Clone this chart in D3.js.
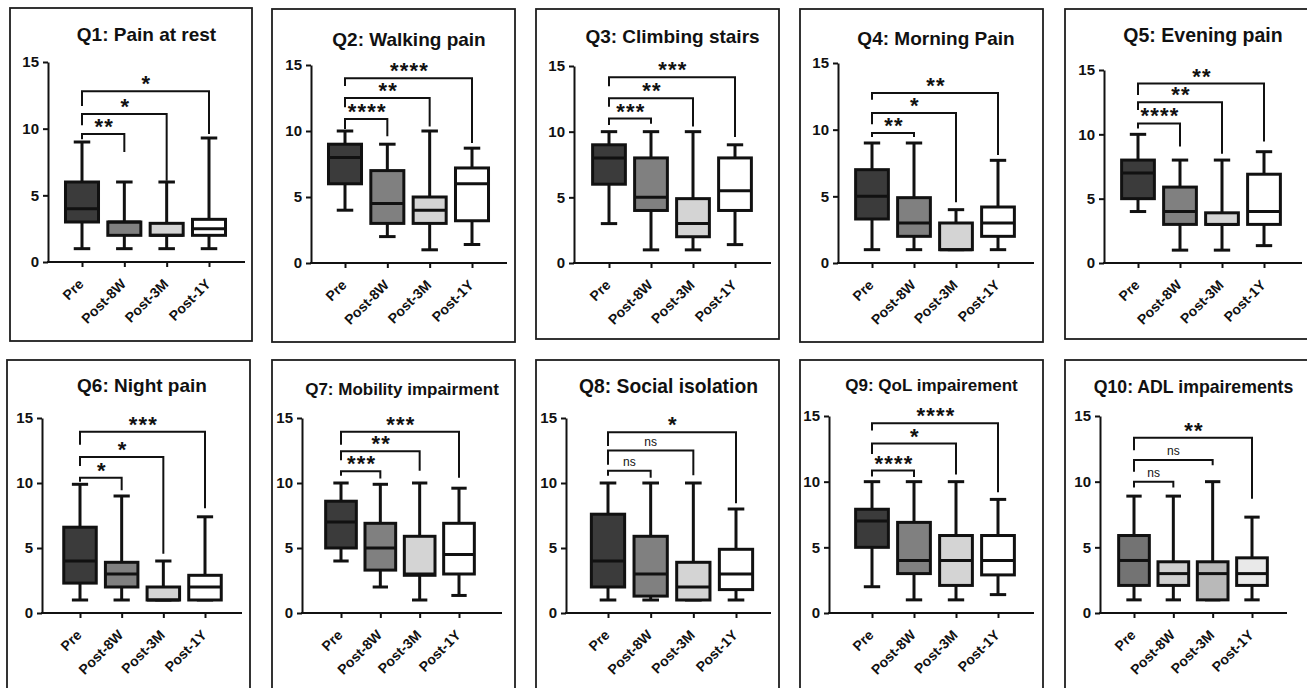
<!DOCTYPE html>
<html><head><meta charset="utf-8">
<script src="https://cdn.jsdelivr.net/npm/d3@7"></script>
<style>
body{margin:0;background:#fff}
svg{display:block}
text{font-family:"Liberation Sans",Arial,Helvetica,sans-serif}
</style>
</head><body>
<svg id="c" width="1307" height="688"></svg>
<script>
// ---------- data ----------
const categories = ["Pre","Post-8W","Post-3M","Post-1Y"];
const titles = ["Q1: Pain at rest","Q2: Walking pain","Q3: Climbing stairs","Q4: Morning Pain","Q5: Evening pain",
                "Q6: Night pain","Q7: Mobility impairment","Q8: Social isolation","Q9: QoL impairement","Q10: ADL impairements"];
const yTicks = [0,5,10,15];

const whiskerMin = [[1,1,1,1],[4,2,1,1.4],[3,1,1,1.4],[1,1,1,1],[4,1,1,1.35],
                    [1,1,1,1],[4,2,1,1.35],[1,1,1,1],[2,1,1,1.4],[1,1,1,1]];
const quart1     = [[3,2,2,2],[6,3,3,3.2],[6,4,2,4],[3.3,2,1,2],[5,3,3,3],
                    [2.3,2,1,1],[5,3.3,2.9,3],[2,1.3,1,1.8],[5,3,2.1,2.9],[2.1,2.1,1,2.1]];
const medians    = [[4,3,2,2.5],[8,4.5,4,6],[8,5,3,5.5],[5,3,1,3],[7,4,3,4],
                    [4,3,1,2],[7,5,3,4.5],[4,3,2,3],[7,4,4,4],[4,3,3,3]];
const quart3     = [[6,3,2.9,3.2],[9,7,5,7.2],[9,8,4.9,8],[7,4.9,3,4.2],[8,5.9,3.9,6.9],
                    [6.6,3.9,2,2.9],[8.6,6.9,5.9,6.9],[7.6,5.9,3.9,4.9],[7.9,6.9,5.9,5.9],[5.9,3.9,3.9,4.2]];
const whiskerMax = [[9,6,6,9.3],[10,9,10,8.7],[10,10,10,9],[9,9,4,7.7],[10,8,8,8.65],
                    [9.9,9,4,7.4],[10,9.9,10,9.6],[10,10,10,8],[10,10,10,8.65],[8.9,8.9,10,7.3]];

// significance brackets (Pre vs Post-8W, Post-3M, Post-1Y), in score units
const sigLabels = [["**","*","*"],["****","**","****"],["***","**","***"],["**","*","**"],["****","**","**"],
                   ["*","*","***"],["***","**","***"],["ns","ns","*"],["****","*","****"],["ns","ns","**"]];
const bracketLevel = [[9.6,11.1,12.8],[10.9,12.5,14.0],[11.0,12.55,14.15],[9.75,11.25,12.75],[10.85,12.5,13.95],
                      [10.4,12.0,13.95],[10.9,12.45,13.95],[10.95,12.5,13.9],[10.85,12.9,14.45],[10.0,11.65,13.35]];
const bracketLeftEnd = [[9.2,10.25,11.7],[10.15,11.8,13.4],[10.5,11.9,13.45],[9.45,10.4,12.25],[10.45,11.9,13.05],
                        [10.1,11.3,12.95],[10.55,11.75,12.95],[10.55,11.4,12.85],[10.4,12.1,13.9],[9.55,10.75,12.4]];
const bracketRightEnd = [[8.25,6.1,9.6],[9.6,10.35,9.1],[10.6,10.4,9.6],[9.45,4.55,8.1],[9.05,8.5,9.45],
                         [9.45,4.55,8.05],[10.35,10.95,10.4],[10.4,10.6,8.45],[10.35,10.55,9.2],[9.55,11.25,8.7]];

// ---------- layout / style (not data) ----------
const layout = [
 {frame:[10,8,252,341],  ax:48,  xEnd:245,  yTop:62,  yBot:262, c0:82,   c3:209,  ty:41,  ts:19},
 {frame:[272,9,515,342], ax:311, xEnd:507,  yTop:65,  yBot:263, c0:345,  c3:472,  ty:46,  ts:19},
 {frame:[536,9,779,339], ax:574, xEnd:771,  yTop:66,  yBot:263, c0:609,  c3:735,  ty:43,  ts:19},
 {frame:[800,9,1043,342],ax:838, xEnd:1034, yTop:63,  yBot:263, c0:872,  c3:998,  ty:45,  ts:19},
 {frame:[1065,9,1312,339],ax:1104,xEnd:1302,yTop:70,  yBot:263, c0:1138, c3:1264, ty:42,  ts:19.5},
 {frame:[7,360,250,700], ax:42,  xEnd:242,  yTop:418, yBot:613, c0:80,   c3:205,  ty:392, ts:19},
 {frame:[272,360,515,700],ax:302,xEnd:502,  yTop:418, yBot:613, c0:341,  c3:459,  ty:395, ts:17},
 {frame:[536,360,779,700],ax:566,xEnd:771,  yTop:418, yBot:613, c0:608,  c3:736,  ty:393, ts:19.3},
 {frame:[800,360,1043,700],ax:829,xEnd:1034,yTop:416, yBot:613, c0:872,  c3:998,  ty:391, ts:17},
 {frame:[1065,360,1312,700],ax:1100,xEnd:1287,yTop:416,yBot:613, c0:1134, c3:1252, ty:393, ts:17.7}
];
const fillsDefault = ["#3b3b3b","#808080","#d4d4d4","#ffffff"];
const fillsQ10 = ["#737373","#d0d0d0","#b9b9b9","#e9e9e9"];

const svg = d3.select("#c");

layout.forEach((L, i) => {
  const g = svg.append("g");
  const fills = i === 9 ? fillsQ10 : fillsDefault;

  g.append("rect")
    .attr("x", L.frame[0]).attr("y", L.frame[1])
    .attr("width", L.frame[2]-L.frame[0]).attr("height", L.frame[3]-L.frame[1])
    .attr("fill","none").attr("stroke","#1e1e1e").attr("stroke-width",1.8);

  const y = d3.scaleLinear().domain([0,15]).range([L.yBot, L.yTop]);
  const x = d3.scalePoint().domain(categories).range([L.c0, L.c3]);
  const step = x.step();
  const bw = step*0.78;

  // title
  g.append("text")
    .attr("x", (L.ax + L.xEnd)/2).attr("y", L.ty)
    .attr("text-anchor","middle").attr("font-weight","bold")
    .attr("font-size", L.ts).attr("fill","#111")
    .text(titles[i]);

  // y axis
  const ya = g.append("g").attr("transform",`translate(${L.ax},0)`)
    .call(d3.axisLeft(y).tickValues(yTicks).tickSize(5).tickSizeOuter(0).tickPadding(4));
  ya.select(".domain").attr("stroke","#111").attr("stroke-width",2);
  ya.selectAll(".tick line").attr("stroke","#111").attr("stroke-width",2);
  ya.selectAll(".tick text").attr("font-size",15).attr("font-weight","bold").attr("fill","#111")
    .attr("font-family","'Liberation Sans',Arial,sans-serif");

  // x axis
  const xa = g.append("g").attr("transform",`translate(0,${L.yBot})`)
    .call(d3.axisBottom(x).tickSize(5).tickSizeOuter(0).tickPadding(3));
  xa.select(".domain").remove();
  xa.append("line").attr("x1",L.ax-1).attr("x2",L.xEnd).attr("y1",0).attr("y2",0)
    .attr("stroke","#111").attr("stroke-width",2);
  xa.selectAll(".tick line").attr("stroke","#111").attr("stroke-width",2);
  xa.selectAll(".tick text")
    .attr("font-size",14).attr("font-weight","bold").attr("fill","#111")
    .attr("font-family","'Liberation Sans',Arial,sans-serif")
    .attr("text-anchor","end")
    .attr("transform","translate(2,23) rotate(-45)")
    .attr("y",0).attr("dy",0);

  // boxes
  const rows = categories.map((c,k) => ({
    c, k, mn: whiskerMin[i][k], q1: quart1[i][k], md: medians[i][k], q3: quart3[i][k], mx: whiskerMax[i][k]
  }));
  const bg = g.append("g").attr("stroke","#111").attr("stroke-width",3);
  rows.forEach(r => {
    const cx = x(r.c);
    bg.append("line").attr("x1",cx).attr("x2",cx).attr("y1",y(r.mn)).attr("y2",y(r.q1));
    bg.append("line").attr("x1",cx).attr("x2",cx).attr("y1",y(r.q3)).attr("y2",y(r.mx));
    bg.append("line").attr("x1",cx-bw/4).attr("x2",cx+bw/4).attr("y1",y(r.mn)).attr("y2",y(r.mn));
    bg.append("line").attr("x1",cx-bw/4).attr("x2",cx+bw/4).attr("y1",y(r.mx)).attr("y2",y(r.mx));
    bg.append("rect").attr("x",cx-bw/2).attr("width",bw)
      .attr("y",y(r.q3)).attr("height",Math.max(0.5, y(r.q1)-y(r.q3)))
      .attr("fill",fills[r.k]);
    bg.append("line").attr("x1",cx-bw/2).attr("x2",cx+bw/2).attr("y1",y(r.md)).attr("y2",y(r.md));
  });

  // significance brackets
  const sg = g.append("g");
  [1,2,3].forEach((t,b) => {
    const x0 = x(categories[0]), x1 = x(categories[t]);
    sg.append("path")
      .attr("d",`M${x0},${y(bracketLeftEnd[i][b])}V${y(bracketLevel[i][b])}H${x1}V${y(bracketRightEnd[i][b])}`)
      .attr("fill","none").attr("stroke","#111").attr("stroke-width",2);
    const lab = sigLabels[i][b];
    const isNs = lab === "ns";
    sg.append("text")
      .attr("x",(x0+x1)/2 + (isNs?0:1)).attr("y", y(bracketLevel[i][b]) - (isNs?5:0))
      .attr("text-anchor","middle")
      .attr("font-size", isNs?12:22).attr("font-weight", isNs?"normal":"bold")
      .attr("letter-spacing", isNs?0:1.2)
      .attr("fill","#111")
      .text(lab);
  });
});
</script>
</body></html>
